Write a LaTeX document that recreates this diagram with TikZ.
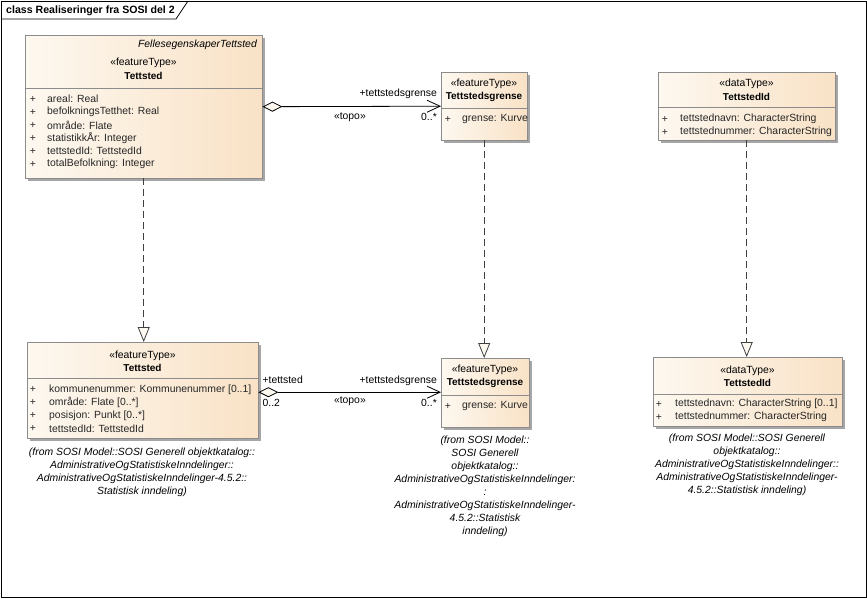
\documentclass[tikz,border=0pt]{standalone}
\usepackage{fontspec}
\setmainfont{Liberation Sans}
\usetikzlibrary{arrows.meta, positioning, shadows}

\definecolor{boxleft}{RGB}{253,248,240}
\definecolor{boxright}{RGB}{249,226,198}
\definecolor{linegray}{RGB}{140,140,140}

\tikzset{
  classbox/.style={draw=linegray, left color=boxleft, right color=boxright, anchor=north west, inner sep=0pt,
    drop shadow={shadow xshift=3pt, shadow yshift=-3pt, fill=black!35, opacity=1}},
  divider/.style={draw=linegray},
  stereo/.style={inner sep=0pt},
  cname/.style={inner sep=0pt, font=\fontsize{10}{12}\selectfont\bfseries},
  attrplus/.style={inner sep=0pt, text=black!85},
  attrtext/.style={anchor=west, inner sep=0pt, text=black!85},
  origin/.style={align=center, inner sep=0pt, font=\fontsize{10.4}{13}\selectfont\itshape},
  rolelabel/.style={inner sep=0pt},
  aggr/.style={{Diamond[length=20pt,width=10pt,fill=boxleft]}-{Straight Barb[length=13pt,width=12pt]}, line width=0.8pt},
  realize/.style={-{Triangle[length=15pt,width=12pt,fill=boxleft]}, dash pattern=on 7pt off 4pt, draw=black!75, line width=0.8pt},
}

\begin{document}
\begin{tikzpicture}[x=1pt, y=-1pt, font=\fontsize{10.4}{13}\selectfont]
    \useasboundingbox (0,0) rectangle (867,598);

    % frame and title
    \draw[line width=0.8pt] (1,1) rectangle (866,597);
    \draw[line width=0.8pt] (1,19) -- (176,19) -- (188,1);
    \node[anchor=west, inner sep=0pt, font=\fontsize{10.6}{13}\selectfont\bfseries] (title) at (6,11) {class Realiseringer fra SOSI del 2};

    % FellesegenskaperTettsted / Tettsted
    \node[classbox, minimum width=237pt, minimum height=143pt] (fellesbox) at (25,35) {};
    \node[stereo, anchor=east, font=\fontsize{10.4}{13}\selectfont\itshape] (fellesabstr) at (257,45) {FellesegenskaperTettsted};
    \node[stereo] (fellesstereo) at (143.5,63) {«featureType»};
    \node[cname] (fellesname) at (143.5,76) {Tettsted};
    \draw[divider] (fellesbox.west |- 0,88) -- (fellesbox.east |- 0,88);
    \foreach \attrline [count=\i] in {areal: Real, befolkningsTetthet: Real, område: Flate, statistikkÅr: Integer, tettstedId: TettstedId, totalBefolkning: Integer}
      {\node[attrplus] (fellesplus\i) at (33,86+13*\i) {+};
       \node[attrtext] (fellesattr\i) at (47,86+13*\i) {\attrline};}

    % Tettstedsgrense (top)
    \node[classbox, minimum width=86pt, minimum height=68pt] (grenseTop) at (441,72) {};
    \node[stereo] (grenseTopstereo) at (484,84) {«featureType»};
    \node[cname] (grenseTopname) at (484,97) {Tettstedsgrense};
    \draw[divider] (grenseTop.west |- 0,108) -- (grenseTop.east |- 0,108);
    \node[attrplus] (grenseTopplus) at (448,119) {+};
    \node[attrtext] (grenseTopattr) at (462,119) {grense: Kurve};

    % TettstedId (top)
    \node[classbox, minimum width=177pt, minimum height=68pt] (idTop) at (658,72) {};
    \node[stereo] (idTopstereo) at (746.5,84) {«dataType»};
    \node[cname] (idTopname) at (746.5,97) {TettstedId};
    \draw[divider] (idTop.west |- 0,107) -- (idTop.east |- 0,107);
    \foreach \attrline [count=\i] in {tettstednavn: CharacterString, tettstednummer: CharacterString}
      {\node[attrplus] (idTopplus\i) at (665,106+13*\i) {+};
       \node[attrtext] (idTopattr\i) at (680,106+13*\i) {\attrline};}

    % Tettsted (bottom)
    \node[classbox, minimum width=231pt, minimum height=96pt] (tettstedbox) at (27,342) {};
    \node[stereo] (tettstedstereo) at (142.5,356) {«featureType»};
    \node[cname] (tettstedname) at (142.5,368) {Tettsted};
    \draw[divider] (tettstedbox.west |- 0,378) -- (tettstedbox.east |- 0,378);
    \foreach \attrline [count=\i] in {{kommunenummer: Kommunenummer [0..1]}, {område: Flate [0..*]}, {posisjon: Punkt [0..*]}, {tettstedId: TettstedId}}
      {\node[attrplus] (tettstedplus\i) at (33,376.5+13*\i) {+};
       \node[attrtext] (tettstedattr\i) at (49,376.5+13*\i) {\attrline};}
    \node[origin] (tettstedfrom) at (142,472) {(from SOSI Model::SOSI Generell objektkatalog::\\AdministrativeOgStatistiskeInndelinger::\\AdministrativeOgStatistiskeInndelinger-4.5.2::\\Statistisk inndeling)};

    % Tettstedsgrense (bottom)
    \node[classbox, minimum width=88pt, minimum height=69pt] (grenseBot) at (441,358) {};
    \node[stereo] (grenseBotstereo) at (485,370) {«featureType»};
    \node[cname] (grenseBotname) at (485,383) {Tettstedsgrense};
    \draw[divider] (grenseBot.west |- 0,395) -- (grenseBot.east |- 0,395);
    \node[attrplus] (grenseBotplus) at (448,406) {+};
    \node[attrtext] (grenseBotattr) at (462,406) {grense: Kurve};
    \node[origin] (grenseBotfrom) at (485,486) {(from SOSI Model::\\SOSI Generell\\objektkatalog::\\AdministrativeOgStatistiskeInndelinger:\\:\\AdministrativeOgStatistiskeInndelinger-\\4.5.2::Statistisk\\inndeling)};

    % TettstedId (bottom)
    \node[classbox, minimum width=189pt, minimum height=69pt] (idBot) at (653,357) {};
    \node[stereo] (idBotstereo) at (747.5,371) {«dataType»};
    \node[cname] (idBotname) at (747.5,383) {TettstedId};
    \draw[divider] (idBot.west |- 0,394) -- (idBot.east |- 0,394);
    \foreach \attrline [count=\i] in {{tettstednavn: CharacterString [0..1]}, {tettstednummer: CharacterString}}
      {\node[attrplus] (idBotplus\i) at (659,391+13*\i) {+};
       \node[attrtext] (idBotattr\i) at (675,391+13*\i) {\attrline};}
    \node[origin] (idBotfrom) at (747,465) {(from SOSI Model::SOSI Generell\\objektkatalog::\\AdministrativeOgStatistiskeInndelinger::\\AdministrativeOgStatistiskeInndelinger-\\4.5.2::Statistisk inndeling)};

    % associations
    \draw[aggr] (fellesbox.east) -- (grenseTop.west);
    \node[rolelabel, anchor=east] (toprole) at ([xshift=-4pt, yshift=12pt]grenseTop.west) {+tettstedsgrense};
    \node[rolelabel, anchor=east] (topmult) at ([xshift=-4pt, yshift=-11pt]grenseTop.west) {0..*};
    \node[rolelabel] (topstereo) at ([xshift=87.5pt, yshift=-10.5pt]fellesbox.east) {«topo»};

    \coordinate (botstart) at ([yshift=-2pt]tettstedbox.east);
    \draw[aggr] (botstart) -- (botstart -| grenseBot.west);
    \node[rolelabel, anchor=west] (botsrcrole) at ([xshift=4pt, yshift=12pt]botstart) {+tettsted};
    \node[rolelabel, anchor=west] (botsrcmult) at ([xshift=4pt, yshift=-11pt]botstart) {0..2};
    \node[rolelabel, anchor=east] (botrole) at ([xshift=-4pt, yshift=11pt]botstart -| grenseBot.west) {+tettstedsgrense};
    \node[rolelabel, anchor=east] (botmult) at ([xshift=-4pt, yshift=-11pt]botstart -| grenseBot.west) {0..*};
    \node[rolelabel] (botstereo) at ([xshift=91.5pt, yshift=-9pt]botstart) {«topo»};

    % realizations
    \draw[realize] (fellesbox.south) -- (fellesbox.south |- tettstedbox.north);
    \draw[realize] (grenseTop.south) -- (grenseTop.south |- grenseBot.north);
    \draw[realize] (idTop.south) -- (idTop.south |- idBot.north);
\end{tikzpicture}
\end{document}
